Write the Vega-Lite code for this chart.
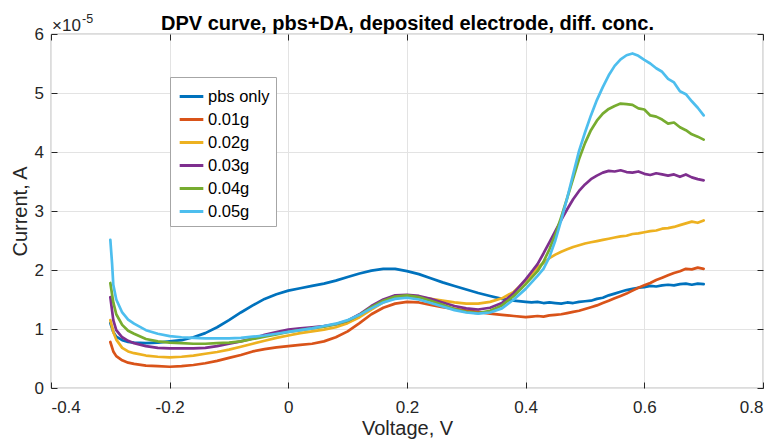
{
  "$schema": "https://vega.github.io/schema/vega-lite/v6.json",
  "width": 712,
  "height": 354,
  "autosize": "none",
  "padding": {"left": 51, "top": 34, "right": 14, "bottom": 54},
  "background": "white",
  "config": {
    "font": "Liberation Sans",
    "view": {"stroke": "#262626", "strokeWidth": 0.8},
    "axis": {"labelFont": "Liberation Sans", "labelFontSize": 17, "labelColor": "#262626", "titleFont": "Liberation Sans", "titleFontSize": 20, "titleFontWeight": "normal", "titleColor": "#262626", "domain": false, "tickColor": "#262626", "tickSize": -6, "gridColor": "#e3e3e3", "gridWidth": 1}
  },
  "resolve": {"axis": {"x": "independent", "y": "independent"}},
  "layer": [
    {
      "data": {"values": [
        {"series":"pbs only","voltage":-0.30,"current":1.10},{"series":"pbs only","voltage":-0.295,"current":0.95},{"series":"pbs only","voltage":-0.29,"current":0.87},{"series":"pbs only","voltage":-0.28,"current":0.81},{"series":"pbs only","voltage":-0.27,"current":0.78},{"series":"pbs only","voltage":-0.26,"current":0.77},{"series":"pbs only","voltage":-0.24,"current":0.76},{"series":"pbs only","voltage":-0.22,"current":0.77},{"series":"pbs only","voltage":-0.20,"current":0.79},{"series":"pbs only","voltage":-0.18,"current":0.81},{"series":"pbs only","voltage":-0.16,"current":0.86},{"series":"pbs only","voltage":-0.14,"current":0.93},{"series":"pbs only","voltage":-0.12,"current":1.03},{"series":"pbs only","voltage":-0.10,"current":1.15},{"series":"pbs only","voltage":-0.08,"current":1.28},{"series":"pbs only","voltage":-0.06,"current":1.40},{"series":"pbs only","voltage":-0.04,"current":1.51},{"series":"pbs only","voltage":-0.02,"current":1.59},{"series":"pbs only","voltage":0.00,"current":1.65},{"series":"pbs only","voltage":0.02,"current":1.69},{"series":"pbs only","voltage":0.04,"current":1.73},{"series":"pbs only","voltage":0.06,"current":1.77},{"series":"pbs only","voltage":0.08,"current":1.82},{"series":"pbs only","voltage":0.10,"current":1.88},{"series":"pbs only","voltage":0.12,"current":1.94},{"series":"pbs only","voltage":0.14,"current":1.99},{"series":"pbs only","voltage":0.16,"current":2.02},{"series":"pbs only","voltage":0.18,"current":2.02},{"series":"pbs only","voltage":0.20,"current":1.98},{"series":"pbs only","voltage":0.22,"current":1.93},{"series":"pbs only","voltage":0.24,"current":1.86},{"series":"pbs only","voltage":0.26,"current":1.79},{"series":"pbs only","voltage":0.28,"current":1.73},{"series":"pbs only","voltage":0.30,"current":1.67},{"series":"pbs only","voltage":0.32,"current":1.61},{"series":"pbs only","voltage":0.34,"current":1.56},{"series":"pbs only","voltage":0.36,"current":1.51},{"series":"pbs only","voltage":0.38,"current":1.48},{"series":"pbs only","voltage":0.40,"current":1.46},{"series":"pbs only","voltage":0.41,"current":1.45},{"series":"pbs only","voltage":0.42,"current":1.46},{"series":"pbs only","voltage":0.43,"current":1.44},{"series":"pbs only","voltage":0.44,"current":1.45},{"series":"pbs only","voltage":0.45,"current":1.44},{"series":"pbs only","voltage":0.46,"current":1.43},{"series":"pbs only","voltage":0.47,"current":1.45},{"series":"pbs only","voltage":0.48,"current":1.44},{"series":"pbs only","voltage":0.49,"current":1.46},{"series":"pbs only","voltage":0.50,"current":1.47},{"series":"pbs only","voltage":0.51,"current":1.48},{"series":"pbs only","voltage":0.52,"current":1.51},{"series":"pbs only","voltage":0.53,"current":1.53},{"series":"pbs only","voltage":0.54,"current":1.57},{"series":"pbs only","voltage":0.55,"current":1.60},{"series":"pbs only","voltage":0.56,"current":1.63},{"series":"pbs only","voltage":0.57,"current":1.66},{"series":"pbs only","voltage":0.58,"current":1.68},{"series":"pbs only","voltage":0.59,"current":1.70},{"series":"pbs only","voltage":0.60,"current":1.71},{"series":"pbs only","voltage":0.61,"current":1.73},{"series":"pbs only","voltage":0.62,"current":1.72},{"series":"pbs only","voltage":0.63,"current":1.74},{"series":"pbs only","voltage":0.64,"current":1.75},{"series":"pbs only","voltage":0.65,"current":1.74},{"series":"pbs only","voltage":0.66,"current":1.76},{"series":"pbs only","voltage":0.67,"current":1.77},{"series":"pbs only","voltage":0.68,"current":1.75},{"series":"pbs only","voltage":0.69,"current":1.77},{"series":"pbs only","voltage":0.70,"current":1.76},
        {"series":"0.01g","voltage":-0.30,"current":0.78},{"series":"0.01g","voltage":-0.295,"current":0.62},{"series":"0.01g","voltage":-0.29,"current":0.54},{"series":"0.01g","voltage":-0.28,"current":0.47},{"series":"0.01g","voltage":-0.27,"current":0.43},{"series":"0.01g","voltage":-0.26,"current":0.41},{"series":"0.01g","voltage":-0.24,"current":0.38},{"series":"0.01g","voltage":-0.22,"current":0.37},{"series":"0.01g","voltage":-0.20,"current":0.36},{"series":"0.01g","voltage":-0.18,"current":0.37},{"series":"0.01g","voltage":-0.16,"current":0.39},{"series":"0.01g","voltage":-0.14,"current":0.42},{"series":"0.01g","voltage":-0.12,"current":0.46},{"series":"0.01g","voltage":-0.10,"current":0.51},{"series":"0.01g","voltage":-0.08,"current":0.56},{"series":"0.01g","voltage":-0.06,"current":0.62},{"series":"0.01g","voltage":-0.04,"current":0.66},{"series":"0.01g","voltage":-0.02,"current":0.69},{"series":"0.01g","voltage":0.00,"current":0.71},{"series":"0.01g","voltage":0.02,"current":0.73},{"series":"0.01g","voltage":0.04,"current":0.75},{"series":"0.01g","voltage":0.06,"current":0.79},{"series":"0.01g","voltage":0.08,"current":0.86},{"series":"0.01g","voltage":0.10,"current":0.96},{"series":"0.01g","voltage":0.12,"current":1.10},{"series":"0.01g","voltage":0.14,"current":1.25},{"series":"0.01g","voltage":0.16,"current":1.36},{"series":"0.01g","voltage":0.18,"current":1.43},{"series":"0.01g","voltage":0.20,"current":1.46},{"series":"0.01g","voltage":0.22,"current":1.45},{"series":"0.01g","voltage":0.24,"current":1.41},{"series":"0.01g","voltage":0.26,"current":1.37},{"series":"0.01g","voltage":0.28,"current":1.34},{"series":"0.01g","voltage":0.30,"current":1.31},{"series":"0.01g","voltage":0.32,"current":1.29},{"series":"0.01g","voltage":0.34,"current":1.26},{"series":"0.01g","voltage":0.36,"current":1.24},{"series":"0.01g","voltage":0.38,"current":1.22},{"series":"0.01g","voltage":0.40,"current":1.20},{"series":"0.01g","voltage":0.41,"current":1.21},{"series":"0.01g","voltage":0.42,"current":1.22},{"series":"0.01g","voltage":0.43,"current":1.21},{"series":"0.01g","voltage":0.44,"current":1.23},{"series":"0.01g","voltage":0.45,"current":1.24},{"series":"0.01g","voltage":0.46,"current":1.25},{"series":"0.01g","voltage":0.47,"current":1.27},{"series":"0.01g","voltage":0.48,"current":1.29},{"series":"0.01g","voltage":0.49,"current":1.31},{"series":"0.01g","voltage":0.50,"current":1.34},{"series":"0.01g","voltage":0.51,"current":1.37},{"series":"0.01g","voltage":0.52,"current":1.40},{"series":"0.01g","voltage":0.53,"current":1.44},{"series":"0.01g","voltage":0.54,"current":1.48},{"series":"0.01g","voltage":0.55,"current":1.52},{"series":"0.01g","voltage":0.56,"current":1.56},{"series":"0.01g","voltage":0.57,"current":1.60},{"series":"0.01g","voltage":0.58,"current":1.65},{"series":"0.01g","voltage":0.59,"current":1.70},{"series":"0.01g","voltage":0.60,"current":1.74},{"series":"0.01g","voltage":0.61,"current":1.78},{"series":"0.01g","voltage":0.62,"current":1.83},{"series":"0.01g","voltage":0.63,"current":1.87},{"series":"0.01g","voltage":0.64,"current":1.91},{"series":"0.01g","voltage":0.65,"current":1.95},{"series":"0.01g","voltage":0.66,"current":1.98},{"series":"0.01g","voltage":0.67,"current":2.02},{"series":"0.01g","voltage":0.68,"current":2.01},{"series":"0.01g","voltage":0.69,"current":2.04},{"series":"0.01g","voltage":0.70,"current":2.02},
        {"series":"0.02g","voltage":-0.30,"current":1.15},{"series":"0.02g","voltage":-0.295,"current":0.95},{"series":"0.02g","voltage":-0.29,"current":0.82},{"series":"0.02g","voltage":-0.28,"current":0.68},{"series":"0.02g","voltage":-0.27,"current":0.62},{"series":"0.02g","voltage":-0.26,"current":0.59},{"series":"0.02g","voltage":-0.24,"current":0.55},{"series":"0.02g","voltage":-0.22,"current":0.53},{"series":"0.02g","voltage":-0.20,"current":0.52},{"series":"0.02g","voltage":-0.18,"current":0.53},{"series":"0.02g","voltage":-0.16,"current":0.55},{"series":"0.02g","voltage":-0.14,"current":0.58},{"series":"0.02g","voltage":-0.12,"current":0.61},{"series":"0.02g","voltage":-0.10,"current":0.65},{"series":"0.02g","voltage":-0.08,"current":0.70},{"series":"0.02g","voltage":-0.06,"current":0.75},{"series":"0.02g","voltage":-0.04,"current":0.80},{"series":"0.02g","voltage":-0.02,"current":0.85},{"series":"0.02g","voltage":0.00,"current":0.89},{"series":"0.02g","voltage":0.02,"current":0.93},{"series":"0.02g","voltage":0.04,"current":0.96},{"series":"0.02g","voltage":0.06,"current":0.99},{"series":"0.02g","voltage":0.08,"current":1.03},{"series":"0.02g","voltage":0.10,"current":1.10},{"series":"0.02g","voltage":0.12,"current":1.20},{"series":"0.02g","voltage":0.14,"current":1.33},{"series":"0.02g","voltage":0.16,"current":1.45},{"series":"0.02g","voltage":0.18,"current":1.53},{"series":"0.02g","voltage":0.20,"current":1.55},{"series":"0.02g","voltage":0.22,"current":1.54},{"series":"0.02g","voltage":0.24,"current":1.51},{"series":"0.02g","voltage":0.26,"current":1.48},{"series":"0.02g","voltage":0.28,"current":1.45},{"series":"0.02g","voltage":0.30,"current":1.43},{"series":"0.02g","voltage":0.32,"current":1.43},{"series":"0.02g","voltage":0.34,"current":1.46},{"series":"0.02g","voltage":0.36,"current":1.52},{"series":"0.02g","voltage":0.38,"current":1.63},{"series":"0.02g","voltage":0.40,"current":1.82},{"series":"0.02g","voltage":0.41,"current":1.93},{"series":"0.02g","voltage":0.42,"current":2.04},{"series":"0.02g","voltage":0.43,"current":2.12},{"series":"0.02g","voltage":0.44,"current":2.20},{"series":"0.02g","voltage":0.45,"current":2.26},{"series":"0.02g","voltage":0.46,"current":2.31},{"series":"0.02g","voltage":0.47,"current":2.35},{"series":"0.02g","voltage":0.48,"current":2.39},{"series":"0.02g","voltage":0.49,"current":2.42},{"series":"0.02g","voltage":0.50,"current":2.45},{"series":"0.02g","voltage":0.51,"current":2.47},{"series":"0.02g","voltage":0.52,"current":2.49},{"series":"0.02g","voltage":0.53,"current":2.51},{"series":"0.02g","voltage":0.54,"current":2.53},{"series":"0.02g","voltage":0.55,"current":2.55},{"series":"0.02g","voltage":0.56,"current":2.57},{"series":"0.02g","voltage":0.57,"current":2.58},{"series":"0.02g","voltage":0.58,"current":2.61},{"series":"0.02g","voltage":0.59,"current":2.62},{"series":"0.02g","voltage":0.60,"current":2.64},{"series":"0.02g","voltage":0.61,"current":2.66},{"series":"0.02g","voltage":0.62,"current":2.67},{"series":"0.02g","voltage":0.63,"current":2.70},{"series":"0.02g","voltage":0.64,"current":2.71},{"series":"0.02g","voltage":0.65,"current":2.73},{"series":"0.02g","voltage":0.66,"current":2.76},{"series":"0.02g","voltage":0.67,"current":2.79},{"series":"0.02g","voltage":0.68,"current":2.82},{"series":"0.02g","voltage":0.69,"current":2.80},{"series":"0.02g","voltage":0.70,"current":2.84},
        {"series":"0.03g","voltage":-0.30,"current":1.54},{"series":"0.03g","voltage":-0.295,"current":1.15},{"series":"0.03g","voltage":-0.29,"current":0.98},{"series":"0.03g","voltage":-0.28,"current":0.86},{"series":"0.03g","voltage":-0.27,"current":0.80},{"series":"0.03g","voltage":-0.26,"current":0.76},{"series":"0.03g","voltage":-0.24,"current":0.71},{"series":"0.03g","voltage":-0.22,"current":0.68},{"series":"0.03g","voltage":-0.20,"current":0.67},{"series":"0.03g","voltage":-0.18,"current":0.67},{"series":"0.03g","voltage":-0.16,"current":0.67},{"series":"0.03g","voltage":-0.14,"current":0.68},{"series":"0.03g","voltage":-0.12,"current":0.71},{"series":"0.03g","voltage":-0.10,"current":0.75},{"series":"0.03g","voltage":-0.08,"current":0.79},{"series":"0.03g","voltage":-0.06,"current":0.84},{"series":"0.03g","voltage":-0.04,"current":0.90},{"series":"0.03g","voltage":-0.02,"current":0.95},{"series":"0.03g","voltage":0.00,"current":0.99},{"series":"0.03g","voltage":0.02,"current":1.01},{"series":"0.03g","voltage":0.04,"current":1.03},{"series":"0.03g","voltage":0.06,"current":1.05},{"series":"0.03g","voltage":0.08,"current":1.08},{"series":"0.03g","voltage":0.10,"current":1.14},{"series":"0.03g","voltage":0.12,"current":1.25},{"series":"0.03g","voltage":0.14,"current":1.39},{"series":"0.03g","voltage":0.16,"current":1.50},{"series":"0.03g","voltage":0.18,"current":1.57},{"series":"0.03g","voltage":0.20,"current":1.58},{"series":"0.03g","voltage":0.22,"current":1.56},{"series":"0.03g","voltage":0.24,"current":1.51},{"series":"0.03g","voltage":0.26,"current":1.45},{"series":"0.03g","voltage":0.28,"current":1.39},{"series":"0.03g","voltage":0.30,"current":1.35},{"series":"0.03g","voltage":0.32,"current":1.33},{"series":"0.03g","voltage":0.34,"current":1.36},{"series":"0.03g","voltage":0.36,"current":1.44},{"series":"0.03g","voltage":0.38,"current":1.61},{"series":"0.03g","voltage":0.40,"current":1.84},{"series":"0.03g","voltage":0.41,"current":1.97},{"series":"0.03g","voltage":0.42,"current":2.10},{"series":"0.03g","voltage":0.43,"current":2.28},{"series":"0.03g","voltage":0.44,"current":2.47},{"series":"0.03g","voltage":0.45,"current":2.66},{"series":"0.03g","voltage":0.46,"current":2.85},{"series":"0.03g","voltage":0.47,"current":3.03},{"series":"0.03g","voltage":0.48,"current":3.20},{"series":"0.03g","voltage":0.49,"current":3.34},{"series":"0.03g","voltage":0.50,"current":3.45},{"series":"0.03g","voltage":0.51,"current":3.54},{"series":"0.03g","voltage":0.52,"current":3.60},{"series":"0.03g","voltage":0.53,"current":3.65},{"series":"0.03g","voltage":0.54,"current":3.68},{"series":"0.03g","voltage":0.55,"current":3.67},{"series":"0.03g","voltage":0.56,"current":3.69},{"series":"0.03g","voltage":0.57,"current":3.66},{"series":"0.03g","voltage":0.58,"current":3.65},{"series":"0.03g","voltage":0.59,"current":3.67},{"series":"0.03g","voltage":0.60,"current":3.63},{"series":"0.03g","voltage":0.61,"current":3.61},{"series":"0.03g","voltage":0.62,"current":3.64},{"series":"0.03g","voltage":0.63,"current":3.62},{"series":"0.03g","voltage":0.64,"current":3.60},{"series":"0.03g","voltage":0.65,"current":3.62},{"series":"0.03g","voltage":0.66,"current":3.58},{"series":"0.03g","voltage":0.67,"current":3.62},{"series":"0.03g","voltage":0.68,"current":3.57},{"series":"0.03g","voltage":0.69,"current":3.54},{"series":"0.03g","voltage":0.70,"current":3.52},
        {"series":"0.04g","voltage":-0.30,"current":1.78},{"series":"0.04g","voltage":-0.295,"current":1.45},{"series":"0.04g","voltage":-0.29,"current":1.25},{"series":"0.04g","voltage":-0.28,"current":1.07},{"series":"0.04g","voltage":-0.27,"current":0.97},{"series":"0.04g","voltage":-0.26,"current":0.92},{"series":"0.04g","voltage":-0.24,"current":0.83},{"series":"0.04g","voltage":-0.22,"current":0.79},{"series":"0.04g","voltage":-0.20,"current":0.77},{"series":"0.04g","voltage":-0.18,"current":0.76},{"series":"0.04g","voltage":-0.16,"current":0.75},{"series":"0.04g","voltage":-0.14,"current":0.75},{"series":"0.04g","voltage":-0.12,"current":0.76},{"series":"0.04g","voltage":-0.10,"current":0.77},{"series":"0.04g","voltage":-0.08,"current":0.79},{"series":"0.04g","voltage":-0.06,"current":0.83},{"series":"0.04g","voltage":-0.04,"current":0.87},{"series":"0.04g","voltage":-0.02,"current":0.91},{"series":"0.04g","voltage":0.00,"current":0.95},{"series":"0.04g","voltage":0.02,"current":0.98},{"series":"0.04g","voltage":0.04,"current":1.01},{"series":"0.04g","voltage":0.06,"current":1.04},{"series":"0.04g","voltage":0.08,"current":1.08},{"series":"0.04g","voltage":0.10,"current":1.14},{"series":"0.04g","voltage":0.12,"current":1.24},{"series":"0.04g","voltage":0.14,"current":1.37},{"series":"0.04g","voltage":0.16,"current":1.48},{"series":"0.04g","voltage":0.18,"current":1.55},{"series":"0.04g","voltage":0.20,"current":1.57},{"series":"0.04g","voltage":0.22,"current":1.54},{"series":"0.04g","voltage":0.24,"current":1.48},{"series":"0.04g","voltage":0.26,"current":1.41},{"series":"0.04g","voltage":0.28,"current":1.34},{"series":"0.04g","voltage":0.30,"current":1.29},{"series":"0.04g","voltage":0.32,"current":1.27},{"series":"0.04g","voltage":0.34,"current":1.31},{"series":"0.04g","voltage":0.36,"current":1.40},{"series":"0.04g","voltage":0.38,"current":1.56},{"series":"0.04g","voltage":0.40,"current":1.76},{"series":"0.04g","voltage":0.41,"current":1.87},{"series":"0.04g","voltage":0.42,"current":1.98},{"series":"0.04g","voltage":0.43,"current":2.14},{"series":"0.04g","voltage":0.44,"current":2.35},{"series":"0.04g","voltage":0.45,"current":2.60},{"series":"0.04g","voltage":0.46,"current":2.90},{"series":"0.04g","voltage":0.47,"current":3.22},{"series":"0.04g","voltage":0.48,"current":3.55},{"series":"0.04g","voltage":0.49,"current":3.88},{"series":"0.04g","voltage":0.50,"current":4.15},{"series":"0.04g","voltage":0.51,"current":4.37},{"series":"0.04g","voltage":0.52,"current":4.53},{"series":"0.04g","voltage":0.53,"current":4.65},{"series":"0.04g","voltage":0.54,"current":4.73},{"series":"0.04g","voltage":0.55,"current":4.78},{"series":"0.04g","voltage":0.56,"current":4.82},{"series":"0.04g","voltage":0.57,"current":4.81},{"series":"0.04g","voltage":0.58,"current":4.80},{"series":"0.04g","voltage":0.59,"current":4.74},{"series":"0.04g","voltage":0.60,"current":4.72},{"series":"0.04g","voltage":0.61,"current":4.62},{"series":"0.04g","voltage":0.62,"current":4.60},{"series":"0.04g","voltage":0.63,"current":4.55},{"series":"0.04g","voltage":0.64,"current":4.48},{"series":"0.04g","voltage":0.65,"current":4.50},{"series":"0.04g","voltage":0.66,"current":4.42},{"series":"0.04g","voltage":0.67,"current":4.37},{"series":"0.04g","voltage":0.68,"current":4.30},{"series":"0.04g","voltage":0.69,"current":4.26},{"series":"0.04g","voltage":0.70,"current":4.21},
        {"series":"0.05g","voltage":-0.30,"current":2.51},{"series":"0.05g","voltage":-0.297,"current":2.10},{"series":"0.05g","voltage":-0.295,"current":1.75},{"series":"0.05g","voltage":-0.29,"current":1.50},{"series":"0.05g","voltage":-0.28,"current":1.28},{"series":"0.05g","voltage":-0.27,"current":1.16},{"series":"0.05g","voltage":-0.26,"current":1.09},{"series":"0.05g","voltage":-0.24,"current":0.98},{"series":"0.05g","voltage":-0.22,"current":0.92},{"series":"0.05g","voltage":-0.20,"current":0.88},{"series":"0.05g","voltage":-0.18,"current":0.86},{"series":"0.05g","voltage":-0.16,"current":0.85},{"series":"0.05g","voltage":-0.14,"current":0.84},{"series":"0.05g","voltage":-0.12,"current":0.84},{"series":"0.05g","voltage":-0.10,"current":0.84},{"series":"0.05g","voltage":-0.08,"current":0.85},{"series":"0.05g","voltage":-0.06,"current":0.87},{"series":"0.05g","voltage":-0.04,"current":0.89},{"series":"0.05g","voltage":-0.02,"current":0.92},{"series":"0.05g","voltage":0.00,"current":0.95},{"series":"0.05g","voltage":0.02,"current":0.98},{"series":"0.05g","voltage":0.04,"current":1.01},{"series":"0.05g","voltage":0.06,"current":1.05},{"series":"0.05g","voltage":0.08,"current":1.09},{"series":"0.05g","voltage":0.10,"current":1.15},{"series":"0.05g","voltage":0.12,"current":1.24},{"series":"0.05g","voltage":0.14,"current":1.35},{"series":"0.05g","voltage":0.16,"current":1.45},{"series":"0.05g","voltage":0.18,"current":1.51},{"series":"0.05g","voltage":0.20,"current":1.53},{"series":"0.05g","voltage":0.22,"current":1.50},{"series":"0.05g","voltage":0.24,"current":1.44},{"series":"0.05g","voltage":0.26,"current":1.38},{"series":"0.05g","voltage":0.28,"current":1.32},{"series":"0.05g","voltage":0.30,"current":1.28},{"series":"0.05g","voltage":0.32,"current":1.26},{"series":"0.05g","voltage":0.34,"current":1.28},{"series":"0.05g","voltage":0.36,"current":1.35},{"series":"0.05g","voltage":0.38,"current":1.50},{"series":"0.05g","voltage":0.40,"current":1.68},{"series":"0.05g","voltage":0.41,"current":1.79},{"series":"0.05g","voltage":0.42,"current":1.90},{"series":"0.05g","voltage":0.43,"current":2.02},{"series":"0.05g","voltage":0.44,"current":2.22},{"series":"0.05g","voltage":0.45,"current":2.50},{"series":"0.05g","voltage":0.46,"current":2.85},{"series":"0.05g","voltage":0.47,"current":3.22},{"series":"0.05g","voltage":0.48,"current":3.62},{"series":"0.05g","voltage":0.49,"current":4.02},{"series":"0.05g","voltage":0.50,"current":4.33},{"series":"0.05g","voltage":0.51,"current":4.62},{"series":"0.05g","voltage":0.52,"current":4.88},{"series":"0.05g","voltage":0.53,"current":5.10},{"series":"0.05g","voltage":0.54,"current":5.30},{"series":"0.05g","voltage":0.55,"current":5.46},{"series":"0.05g","voltage":0.56,"current":5.57},{"series":"0.05g","voltage":0.57,"current":5.64},{"series":"0.05g","voltage":0.58,"current":5.67},{"series":"0.05g","voltage":0.59,"current":5.63},{"series":"0.05g","voltage":0.60,"current":5.56},{"series":"0.05g","voltage":0.61,"current":5.50},{"series":"0.05g","voltage":0.62,"current":5.42},{"series":"0.05g","voltage":0.63,"current":5.36},{"series":"0.05g","voltage":0.64,"current":5.24},{"series":"0.05g","voltage":0.65,"current":5.18},{"series":"0.05g","voltage":0.66,"current":5.03},{"series":"0.05g","voltage":0.67,"current":4.98},{"series":"0.05g","voltage":0.68,"current":4.86},{"series":"0.05g","voltage":0.69,"current":4.75},{"series":"0.05g","voltage":0.70,"current":4.62}
      ]},
      "mark": {"type": "line", "strokeWidth": 2.7, "strokeJoin": "round", "strokeCap": "round", "clip": true},
      "encoding": {
        "x": {"field": "voltage", "type": "quantitative", "scale": {"domain": [-0.4, 0.8], "nice": false, "zero": false},
              "axis": {"orient": "bottom", "title": "Voltage, V", "values": [-0.4, -0.2, 0, 0.2, 0.4, 0.6, 0.8], "labelExpr": "datum.value < 0 ? '-' + format(-datum.value, '~g') : format(datum.value, '~g')", "labelPadding": 17.5, "titlePadding": 3, "grid": true}},
        "y": {"field": "current", "type": "quantitative", "scale": {"domain": [0, 6], "nice": false, "zero": true},
              "axis": {"orient": "left", "title": "Current, A", "values": [0, 1, 2, 3, 4, 5, 6], "format": "d", "labelPadding": 13.5, "titlePadding": 4, "grid": true}},
        "color": {"field": "series", "type": "nominal", "sort": null,
                  "scale": {"domain": ["pbs only", "0.01g", "0.02g", "0.03g", "0.04g", "0.05g"], "range": ["#0072BD", "#D95319", "#EDB120", "#7E2F8E", "#77AC30", "#4DBEEE"]},
                  "legend": {"orient": "none", "legendX": 119, "legendY": 43, "title": null, "symbolType": "stroke", "symbolSize": 560, "symbolStrokeWidth": 3, "symbolOffset": 2, "labelFont": "Liberation Sans", "labelFontSize": 16.5, "labelColor": "#000000", "labelOffset": 3, "fillColor": "#ffffff", "strokeColor": "#a6a6a6", "padding": 6, "rowPadding": 1}}
      }
    },
    {
      "data": {"values": [{"voltage": -0.4, "current": 6, "label": "×10", "exponent": "-5"}]},
      "layer": [
        {
          "mark": {"type": "text", "align": "left", "baseline": "alphabetic", "dx": 1, "dy": -3.5, "fontSize": 17, "font": "Liberation Sans", "color": "#262626"},
          "encoding": {
            "x": {"field": "voltage", "type": "quantitative", "axis": {"orient": "top", "title": "DPV curve, pbs+DA, deposited electrode, diff. conc.", "titleFontSize": 20, "titleFontWeight": "bold", "titleColor": "#000000", "titleBaseline": "alphabetic", "titlePadding": 4, "labels": false, "grid": false, "values": [-0.4, -0.2, 0, 0.2, 0.4, 0.6, 0.8]}},
            "y": {"field": "current", "type": "quantitative", "axis": {"orient": "right", "title": null, "labels": false, "grid": false, "values": [0, 1, 2, 3, 4, 5, 6]}},
            "text": {"field": "label"}
          }
        },
        {
          "mark": {"type": "text", "align": "left", "baseline": "alphabetic", "dx": 31, "dy": -11.5, "fontSize": 12.5, "font": "Liberation Sans", "color": "#262626"},
          "encoding": {
            "x": {"field": "voltage", "type": "quantitative"},
            "y": {"field": "current", "type": "quantitative"},
            "text": {"field": "exponent"}
          }
        }
      ]
    }
  ]
}
